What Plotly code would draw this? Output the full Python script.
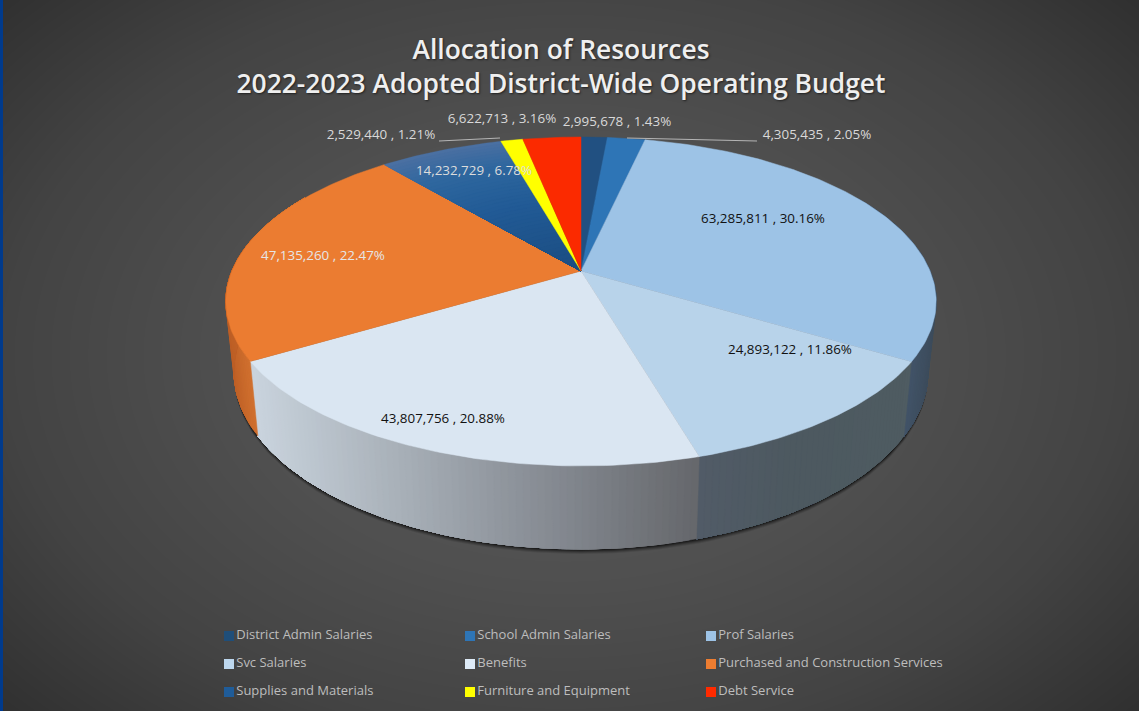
import numpy as np
import plotly.graph_objects as go

# ---- data ----
categories = ["District Admin Salaries", "School Admin Salaries", "Prof Salaries",
              "Svc Salaries", "Benefits", "Purchased and Construction Services",
              "Supplies and Materials", "Furniture and Equipment", "Debt Service"]
values = [2995678, 4305435, 63285811, 24893122, 43807756, 47135260, 14232729, 2529440, 6622713]
title_lines = ["Allocation of Resources", "2022-2023 Adopted District-Wide Operating Budget"]

# ---- style ----
W, H = 1139, 711
colors = ["#215081", "#2e75b6", "#9dc3e6", "#b8d3ea", "#dae6f2", "#eb7c31", "#225b96", "#ffff00", "#fb2a00"]
legend_colors = ["#1f4e79", "#2e75b6", "#9dc3e6", "#bdd7ee", "#deebf7", "#ed7d31", "#1f5c99", "#ffff00", "#ff2a00"]
label_pos = [(617, 123), (817, 136), (763, 220), (790, 351), (443, 420),
             (323, 257), (474, 172), (381, 136), (502, 120)]
label_col = ["#d9d9d9", "#d9d9d9", "#111111", "#111111", "#111111", "#e6e6e6", "#dcdcdc", "#d9d9d9", "#d9d9d9"]
wall_stops = {
    2: [(903, "#43566c"), (935, "#3d4c5c")],
    3: [(695, "#525c68"), (800, "#4d5960"), (905, "#4f5c62")],
    4: [(255, "#c9d3dd"), (400, "#a8b0b8"), (500, "#91979f"), (600, "#7b7f86"), (697, "#66686c")],
    5: [(225, "#bd5f26"), (259, "#d97833")],
}
# perspective model of the disc
CX, HUB_Y = 581, 271
K = 0.1854
A_TOP, B_TOP = 349, 158.8
A_BOT, B_BOT, H_BOT = 341, 171.6, -67.3


def proj(theta, r=1.0, bottom=False):
    u, v = r * np.sin(theta), r * np.cos(theta)
    d = 1 + K * v
    if bottom:
        return CX + A_BOT * u / d, HUB_Y - (H_BOT + B_BOT * v / d)
    return CX + A_TOP * u / d, HUB_Y - B_TOP * v / d


def hex2rgb(c):
    return np.array([int(c[i:i + 2], 16) for i in (1, 3, 5)], float)


def mix(stops, x):
    xs = [s[0] for s in stops]
    rgb = np.array([hex2rgb(s[1]) for s in stops])
    return "rgb(%d,%d,%d)" % tuple(np.interp(x, xs, rgb[:, i]) for i in range(3))


def poly(xs, ys, color, line=0.0):
    return go.Scatter(x=list(xs), y=list(ys), mode="lines", fill="toself", fillcolor=color,
                      line=dict(color=color, width=line), hoverinfo="skip", showlegend=False)


fig = go.Figure()

# background
gx = np.linspace(0, W, 143)
gy = np.linspace(0, H, 90)
XX, YY = np.meshgrid(gx, gy)
dist = np.sqrt(((XX - 565) / 640) ** 2 + ((YY - 355) / 440) ** 2)
fig.add_trace(go.Heatmap(x=gx, y=gy, z=np.clip(dist, 0, 1.25), zsmooth="best", showscale=False, hoverinfo="skip",
                         zmin=0, zmax=1.25,
                         colorscale=[[0, "#585858"], [0.4, "#505050"], [0.7, "#434343"], [1, "#2d2d2d"]]))

# shadow under the disc
all_t = np.linspace(0, 2 * np.pi, 241)
sx, sy = proj(all_t, bottom=True)
for off, alpha in [(5, 0.10), (4, 0.15), (3, 0.2), (2, 0.3), (1, 0.4)]:
    fig.add_trace(poly(sx, sy + off, f"rgba(0,0,0,{alpha})"))

# cumulative angles from the values
total = sum(values)
edges = np.concatenate([[0], np.cumsum(values)]) / total * 2 * np.pi

# side wall: each strip reaches to the slice's far end, the next one paints over it
for i in range(len(values)):
    lo, hi = max(edges[i], np.radians(60)), min(edges[i + 1], np.radians(300))
    if hi <= lo:
        continue
    n = max(2, int(np.degrees(hi - lo)) + 1)
    ts = np.linspace(lo, hi, n)
    for j in range(n - 1):
        seg = ts[j:]
        x1, y1 = proj(seg)
        x2, y2 = proj(seg[::-1], bottom=True)
        xa, _ = proj(ts[j])
        xb, _ = proj(ts[j + 1])
        fig.add_trace(poly(np.r_[x1, x2, x1[0]], np.r_[y1, y2, y1[0]], mix(wall_stops[i], (xa + xb) / 2), 0.5))

# top faces
for i in range(len(values)):
    n = max(3, int(np.degrees(edges[i + 1] - edges[i])) + 2)
    ts = np.linspace(edges[i], edges[i + 1], n)
    if i == 6:
        rings = np.linspace(1, 0.02, 41)
        stops = [(0, "#1b4d82"), (0.5, "#225b96"), (0.8, "#2f679f"), (1, "#4a70a2")]
        for r in rings:
            x1, y1 = proj(ts, r)
            fig.add_trace(poly(np.r_[CX, x1, CX], np.r_[HUB_Y, y1, HUB_Y], mix(stops, r), 0.3))
    else:
        x1, y1 = proj(ts)
        fig.add_trace(poly(np.r_[CX, x1, CX], np.r_[HUB_Y, y1, HUB_Y], colors[i], 0.5))

# leader lines
for lx, ly in [((439, 500), (141, 138)), ((627, 757), (138, 141))]:
    fig.add_trace(go.Scatter(x=list(lx), y=list(ly), mode="lines", line=dict(color="#b5b5b5", width=1),
                             hoverinfo="skip", showlegend=False))

# data labels
labels = [f"{v:,} , {v / total * 100:.2f}%" for v in values]
fig.add_trace(go.Scatter(x=[p[0] for p in label_pos], y=[p[1] for p in label_pos], mode="text", text=labels,
                         textposition="middle center", hoverinfo="skip", showlegend=False,
                         textfont=dict(family="Open Sans", size=13.4, color=label_col)))

# legend grid
col_x = [229, 470, 711]
row_y = [636, 664, 692]
for i, cat in enumerate(categories):
    fig.add_trace(go.Scatter(x=[col_x[i % 3]], y=[row_y[i // 3]], mode="markers+text", text=[cat],
                             textposition="middle right", name=cat, showlegend=False, hoverinfo="skip",
                             marker=dict(symbol="square", size=10, color=legend_colors[i]),
                             textfont=dict(family="Open Sans", size=13, color="#bdbdbd")))

fig.update_layout(
    width=W, height=H, margin=dict(l=0, r=0, t=0, b=0), autosize=False,
    paper_bgcolor="#3a3a3a", plot_bgcolor="#3a3a3a",
    xaxis=dict(range=[0, W], visible=False, fixedrange=True),
    yaxis=dict(range=[H, 0], visible=False, fixedrange=True),
    title=dict(text="<br>".join(title_lines), x=561 / W, xanchor="center", y=1 - 59 / H, yanchor="top",
               pad=dict(t=0), font=dict(family="Open Sans", size=26.4, color="#efefef", weight=600,
                                        shadow="1px 1px 2px #222222")),
    shapes=[dict(type="rect", xref="x", yref="y", x0=0, x1=3, y0=0, y1=H, fillcolor="#003a8c", line_width=0)],
)
fig.write_html("out.html", config=dict(displayModeBar=False),
               post_script="document.body.style.margin='0';document.body.style.overflow='hidden';")
